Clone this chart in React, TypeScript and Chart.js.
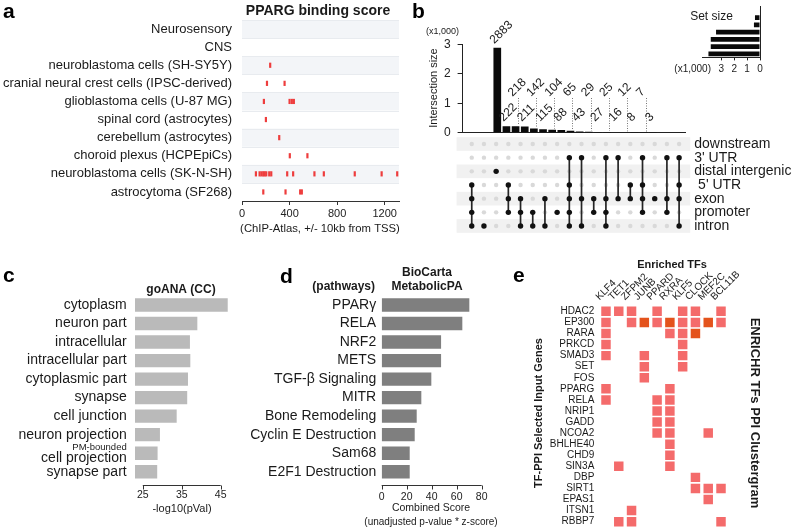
import React, { useEffect, useRef } from 'react';
import { Chart, registerables } from 'chart.js';

Chart.register(...registerables);

const FONT_FAMILY = '"Liberation Sans", Arial, Helvetica, sans-serif';
Chart.defaults.font.family = FONT_FAMILY;
Chart.defaults.color = '#1a1a1a';

// ---------------- panel a: PPARG binding score ----------------
const cellTypes = [
  'Neurosensory',
  'CNS',
  'neuroblastoma cells (SH-SY5Y)',
  'cranial neural crest cells (IPSC-derived)',
  'glioblastoma cells (U-87 MG)',
  'spinal cord (astrocytes)',
  'cerebellum (astrocytes)',
  'choroid plexus (HCPEpiCs)',
  'neuroblastoma cells (SK-N-SH)',
  'astrocytoma (SF268)',
];
const bindingScores: number[][] = [
  [],
  [],
  [237],
  [210, 358],
  [184, 400, 419, 436],
  [201],
  [313],
  [402, 550],
  [117, 148, 164, 179, 190, 204, 229, 246, 380, 430, 609, 688, 948, 1174, 1305],
  [179, 366, 489, 503],
];
const bindingTicks = [0, 400, 800, 1200];
const bindingMax = 1320;

// ---------------- panel b: UpSet ----------------
const intersectionSizes = [2883, 222, 218, 211, 142, 115, 104, 88, 65, 43, 29, 27, 25, 16, 12, 8, 7, 3];
const setKeys = ['downstream', '3UTR', 'distal', '5UTR', 'exon', 'promoter', 'intron'];
const setLabels = ['downstream', "3' UTR", 'distal intergenic', " 5' UTR", 'exon', 'promoter', 'intron'];
const setSizes = [40, 390, 470, 3410, 3820, 3820, 4000];
const intersectionMembers: string[][] = [
  ['5UTR', 'exon', 'promoter', 'intron'],
  ['intron'],
  ['distal'],
  ['5UTR', 'exon', 'promoter'],
  ['exon', 'promoter', 'intron'],
  ['promoter', 'intron'],
  ['exon', 'intron'],
  ['promoter'],
  ['3UTR', '5UTR', 'exon', 'promoter', 'intron'],
  ['3UTR', 'exon', 'intron'],
  ['exon', 'promoter'],
  ['3UTR', 'exon', 'promoter', 'intron'],
  ['3UTR', 'exon'],
  ['5UTR', 'exon'],
  ['3UTR', '5UTR', 'exon', 'promoter'],
  ['exon'],
  ['3UTR', 'exon', 'promoter'],
  ['3UTR', '5UTR', 'exon', 'intron'],
];
const intersectionTicks = [0, 1000, 2000, 3000];
const setSizeTicks = [0, 1000, 2000, 3000];

// ---------------- panel c: goANA (CC) ----------------
const goTerms = [
  'cytoplasm',
  'neuron part',
  'intracellular',
  'intracellular part',
  'cytoplasmic part',
  'synapse',
  'cell junction',
  'neuron projection',
  'cell projection',
  'synapse part',
];
const goPrefixes = ['', '', '', '', '', '', '', '', 'PM-bounded', ''];
const goScores = [46.8, 39.0, 37.1, 37.2, 36.6, 36.4, 33.7, 29.4, 28.8, 28.7];
const goTicks = [25, 35, 45];

// ---------------- panel d: BioCarta MetabolicPA ----------------
const pathways = [
  'PPARγ',
  'RELA',
  'NRF2',
  'METS',
  'TGF-β Signaling',
  'MITR',
  'Bone Remodeling',
  'Cyclin E Destruction',
  'Sam68',
  'E2F1 Destruction',
];
const pathwayScores = [70.1, 64.5, 47.5, 47.5, 39.7, 31.7, 28.0, 26.4, 22.4, 22.4];
const pathwayTicks = [0, 20, 40, 60, 80];

// ---------------- panel e: ENRICHR TFs PPI clustergram ----------------
const enrichedTFs = ['KLF4', 'TET1', 'ZFPM2', 'JUNB', 'PPARD', 'RXRA', 'KLF5', 'CLOCK', 'MEF2C', 'BCL11B'];
const inputGenes = [
  'HDAC2', 'EP300', 'RARA', 'PRKCD', 'SMAD3', 'SET', 'FOS', 'PPARG', 'RELA', 'NRIP1',
  'GADD', 'NCOA2', 'BHLHE40', 'CHD9', 'SIN3A', 'DBP', 'SIRT1', 'EPAS1', 'ITSN1', 'RBBP7',
];
// 0 = none, 1 = interaction, 2 = strong interaction
const ppiMatrix: number[][] = [
  [1, 1, 1, 0, 1, 0, 1, 1, 0, 1],
  [1, 0, 1, 2, 1, 2, 1, 1, 2, 1],
  [1, 0, 0, 0, 0, 1, 1, 2, 0, 0],
  [1, 0, 0, 0, 0, 0, 1, 0, 0, 0],
  [1, 0, 0, 1, 0, 0, 1, 0, 0, 0],
  [0, 0, 0, 1, 0, 0, 1, 0, 0, 0],
  [0, 0, 0, 1, 0, 0, 0, 0, 0, 0],
  [1, 0, 0, 0, 0, 1, 0, 0, 0, 0],
  [1, 0, 0, 0, 1, 1, 0, 0, 0, 0],
  [0, 0, 0, 0, 1, 1, 0, 0, 0, 0],
  [0, 0, 0, 0, 1, 1, 0, 0, 0, 0],
  [0, 0, 0, 0, 1, 1, 0, 0, 1, 0],
  [0, 0, 0, 0, 0, 1, 0, 0, 0, 0],
  [0, 0, 0, 0, 0, 1, 0, 0, 0, 0],
  [0, 1, 0, 0, 0, 1, 0, 0, 0, 0],
  [0, 0, 0, 0, 0, 0, 0, 1, 0, 0],
  [0, 0, 0, 0, 0, 0, 0, 1, 1, 1],
  [0, 0, 0, 0, 0, 0, 0, 0, 1, 0],
  [0, 0, 1, 0, 0, 0, 0, 0, 0, 0],
  [0, 1, 1, 0, 0, 0, 0, 0, 0, 1],
];

// ---------------- helpers ----------------
type Box = { left: number; top: number; width: number; height: number };
type TextItem = {
  text: string; x: number; y: number; size: number; bold?: boolean; color?: string;
  align?: CanvasTextAlign; baseline?: CanvasTextBaseline; rotate?: number;
};

const fnt = (size: number, bold = false) => `${bold ? 'bold ' : ''}${size}px ${FONT_FAMILY}`;

function drawTexts(ctx: CanvasRenderingContext2D, items: TextItem[], box: Box) {
  for (const t of items) {
    ctx.save();
    ctx.font = fnt(t.size, t.bold);
    ctx.fillStyle = t.color || '#1a1a1a';
    ctx.textAlign = t.align || 'center';
    ctx.textBaseline = t.baseline || 'middle';
    ctx.translate(t.x - box.left, t.y - box.top);
    if (t.rotate) ctx.rotate((t.rotate * Math.PI) / 180);
    ctx.fillText(t.text, 0, 0);
    ctx.restore();
  }
}

function textPlugin(box: Box, items: TextItem[]) {
  return { id: 'pageTexts', afterDraw(chart: any) { drawTexts(chart.ctx, items, box); } };
}

const fixW = (w: number) => (s: any) => {
  s.width = w; s.paddingTop = 0; s.paddingBottom = 0; s.paddingLeft = 0; s.paddingRight = 0;
};
const fixH = (h: number) => (s: any) => {
  s.height = h; s.paddingTop = 0; s.paddingBottom = 0; s.paddingLeft = 0; s.paddingRight = 0;
};
const setTicks = (vals: number[]) => (s: any) => { s.ticks = vals.map((v) => ({ value: v })); };
const noGrid = { display: false, drawTicks: false };

// axis line from first to last tick with downward tick marks
function rangeAxisPlugin(offset: number, tickLen: number) {
  return {
    id: 'rangeAxis',
    afterDraw(chart: any) {
      const { ctx, chartArea, scales } = chart;
      const xs = scales.x;
      const ticks = xs.ticks;
      const y = Math.round(chartArea.bottom + offset) + 0.5;
      const x0 = xs.getPixelForValue(ticks[0].value);
      const x1 = xs.getPixelForValue(ticks[ticks.length - 1].value);
      ctx.save();
      ctx.strokeStyle = '#333';
      ctx.lineWidth = 1;
      ctx.beginPath();
      ctx.moveTo(x0, y);
      ctx.lineTo(x1, y);
      for (const t of ticks) {
        const px = Math.round(xs.getPixelForValue(t.value)) + 0.5;
        ctx.moveTo(px, y);
        ctx.lineTo(px, y + tickLen);
      }
      ctx.stroke();
      ctx.restore();
    },
  };
}

const baseOptions = (padding: any) => ({
  animation: false as const,
  responsive: false,
  events: [] as any[],
  layout: { padding, autoPadding: false },
  plugins: { legend: { display: false }, tooltip: { enabled: false }, title: { display: false } },
});

function ChartCanvas({ box, build }: { box: Box; build: (b: Box) => any }) {
  const ref = useRef<HTMLCanvasElement | null>(null);
  useEffect(() => {
    if (!ref.current) return;
    const chart = new Chart(ref.current, build(box));
    return () => chart.destroy();
  }, []);
  return (
    <canvas
      ref={ref}
      width={box.width}
      height={box.height}
      style={{ position: 'absolute', left: box.left, top: box.top, width: box.width, height: box.height }}
    />
  );
}

// ---------------- panel a ----------------
function buildA(box: Box) {
  const pts: { x: number; y: number }[] = [];
  bindingScores.forEach((row, r) => row.forEach((v) => pts.push({ x: v, y: r })));
  const bands = {
    id: 'bandsA',
    beforeDraw(chart: any) {
      const { ctx, chartArea, scales } = chart;
      const ys = scales.y;
      ctx.save();
      cellTypes.forEach((_, i) => {
        const y0 = ys.getPixelForValue(i - 0.5);
        const y1 = ys.getPixelForValue(i + 0.5);
        if (i % 2 === 0) {
          ctx.fillStyle = '#f3f5f8';
          ctx.fillRect(chartArea.left, y0, chartArea.right - chartArea.left, y1 - y0);
        }
      });
      ctx.strokeStyle = '#e8ebef';
      ctx.lineWidth = 1;
      cellTypes.forEach((_, i) => {
        const y = Math.round(ys.getPixelForValue(i - 0.5)) + 0.5;
        ctx.beginPath();
        ctx.moveTo(chartArea.left, y);
        ctx.lineTo(chartArea.right, y);
        ctx.stroke();
      });
      ctx.restore();
    },
  };
  return {
    type: 'scatter',
    data: {
      datasets: [
        {
          data: pts,
          pointStyle: 'line',
          pointRotation: 90,
          pointRadius: 2.6,
          pointBorderWidth: 2.2,
          pointBorderColor: '#ee3d3d',
          pointBackgroundColor: '#ee3d3d',
          borderColor: '#ee3d3d',
        },
      ],
    },
    options: {
      ...baseOptions({ top: 20 - box.top, left: 0, right: box.left + box.width - 399, bottom: 0 }),
      scales: {
        x: {
          type: 'linear', min: 0, max: bindingMax,
          afterBuildTicks: setTicks(bindingTicks),
          afterFit: fixH(box.top + box.height - 201),
          ticks: { font: { size: 11 }, padding: 2, maxRotation: 0, color: '#222', callback: (v: any) => String(v) },
          grid: { drawOnChartArea: false, drawTicks: true, tickLength: 4, color: '#333' },
          border: { display: true, color: '#333' },
        },
        y: {
          type: 'linear', min: -0.5, max: cellTypes.length - 0.5, reverse: true,
          afterBuildTicks: setTicks(cellTypes.map((_, i) => i)),
          afterFit: fixW(242 - box.left),
          ticks: { autoSkip: false, font: { size: 13 }, padding: 10, color: '#1a1a1a', callback: (v: any) => cellTypes[v] },
          grid: noGrid,
          border: { display: false },
        },
      },
    },
    plugins: [
      bands,
      textPlugin(box, [
        { text: 'a', x: 3, y: 18, size: 21, bold: true, align: 'left', baseline: 'alphabetic', color: '#000' },
        { text: 'PPARG binding score', x: 318, y: 11, size: 14, bold: true },
        { text: '(ChIP-Atlas, +/- 10kb from TSS)', x: 320, y: 229, size: 11.3 },
      ]),
    ],
  };
}

// ---------------- panel b: intersection bars ----------------
const COL_MIN = -0.75;
const COL_MAX = 17.5;
const B_LEFT = 462.6;
const B_RIGHT = 685.2;

function buildB1(box: Box) {
  const labelPlugin = {
    id: 'interLabels',
    afterDraw(chart: any) {
      const { ctx } = chart;
      const meta = chart.getDatasetMeta(0);
      ctx.save();
      meta.data.forEach((el: any, i: number) => {
        const x = el.x;
        const top = el.y;
        const level = (i % 2 === 0 ? 97 : 122) - box.top;
        const ly = Math.min(top - 3.5, level);
        if (i % 2 === 0 && top - ly > 6) {
          ctx.strokeStyle = '#777';
          ctx.lineWidth = 1;
          ctx.setLineDash([1, 1.5]);
          ctx.beginPath();
          const lx = Math.round(x + 2) + 0.5;
          ctx.moveTo(lx, ly + 1);
          ctx.lineTo(lx, top - 1);
          ctx.stroke();
          ctx.setLineDash([]);
        }
        ctx.font = fnt(12);
        ctx.fillStyle = '#1a1a1a';
        ctx.textAlign = 'left';
        ctx.textBaseline = 'alphabetic';
        ctx.save();
        ctx.translate(x - 3, ly);
        ctx.rotate(-Math.PI / 4);
        ctx.fillText(String(intersectionSizes[i]), 0, 0);
        ctx.restore();
      });
      ctx.restore();
    },
  };
  return {
    type: 'bar',
    data: {
      datasets: [
        {
          data: intersectionSizes.map((v, i) => ({ x: i, y: v })),
          backgroundColor: '#0a0a0a',
          categoryPercentage: 1,
          barPercentage: 0.84,
        },
      ],
    },
    options: {
      ...baseOptions({ top: 44.2 - box.top, left: 0, right: box.left + box.width - B_RIGHT, bottom: 0 }),
      scales: {
        x: {
          type: 'linear', min: COL_MIN, max: COL_MAX,
          afterFit: fixH(box.top + box.height - 132.7),
          ticks: { display: false },
          grid: noGrid,
          border: { display: true, color: '#222' },
        },
        y: {
          type: 'linear', min: 0, max: 3000,
          afterBuildTicks: setTicks(intersectionTicks),
          afterFit: fixW(B_LEFT - box.left),
          ticks: { font: { size: 12 }, padding: 7, color: '#222', callback: (v: any) => String(v / 1000) },
          grid: { drawOnChartArea: false, drawTicks: true, tickLength: 5, color: '#222' },
          border: { display: true, color: '#222' },
        },
      },
    },
    plugins: [
      labelPlugin,
      textPlugin(box, [
        { text: 'b', x: 412, y: 18, size: 21, bold: true, align: 'left', baseline: 'alphabetic', color: '#000' },
        { text: '(x1,000)', x: 442.5, y: 31.5, size: 9 },
        { text: 'Intersection size', x: 433.5, y: 88, size: 11, rotate: -90 },
      ]),
    ],
  };
}

// ---------------- panel b: matrix ----------------
function buildB2(box: Box) {
  const memberIdx = intersectionMembers.map((m) => m.map((k) => setKeys.indexOf(k)));
  const black: { x: number; y: number }[] = [];
  const gray: { x: number; y: number }[] = [];
  memberIdx.forEach((rows, c) =>
    setKeys.forEach((_, r) => (rows.includes(r) ? black : gray).push({ x: c, y: r })),
  );
  const lines = memberIdx
    .map((rows, c) =>
      rows.length > 1
        ? {
            data: [
              { x: c, y: Math.min(...rows) },
              { x: c, y: Math.max(...rows) },
            ],
            showLine: true,
            borderColor: '#262626',
            borderWidth: 1.7,
            pointRadius: 0,
          }
        : null,
    )
    .filter(Boolean);
  const bands = {
    id: 'bandsB',
    beforeDraw(chart: any) {
      const { ctx, chartArea, scales } = chart;
      const ys = scales.y;
      ctx.save();
      ctx.fillStyle = '#f1f1f1';
      setKeys.forEach((_, i) => {
        if (i % 2 !== 0) return;
        const y0 = ys.getPixelForValue(i - 0.5);
        const y1 = ys.getPixelForValue(i + 0.5);
        ctx.fillRect(chartArea.left - 6, y0, chartArea.right - chartArea.left + 11, y1 - y0);
      });
      ctx.restore();
    },
  };
  return {
    type: 'scatter',
    data: {
      datasets: [
        { data: black, pointRadius: 2.7, pointBackgroundColor: '#111', pointBorderWidth: 0, backgroundColor: '#111' },
        ...lines,
        { data: gray, pointRadius: 2.2, pointBackgroundColor: '#d9d9d9', pointBorderWidth: 0, backgroundColor: '#d9d9d9' },
      ],
    },
    options: {
      ...baseOptions({ top: 137.17 - box.top, left: B_LEFT - box.left, right: 0, bottom: box.top + box.height - 232.83 }),
      scales: {
        x: { type: 'linear', min: COL_MIN, max: COL_MAX, display: false },
        y: {
          type: 'linear', min: -0.5, max: setKeys.length - 0.5, reverse: true, position: 'right',
          afterBuildTicks: setTicks(setKeys.map((_, i) => i)),
          afterFit: fixW(box.left + box.width - B_RIGHT),
          ticks: { autoSkip: false, font: { size: 14 }, padding: 9, color: '#1a1a1a', callback: (v: any) => setLabels[v] },
          grid: noGrid,
          border: { display: false },
        },
      },
    },
    plugins: [bands],
  };
}

// ---------------- panel b: set size ----------------
function buildB3(box: Box) {
  return {
    type: 'bar',
    data: {
      labels: setLabels,
      datasets: [
        { data: setSizes, backgroundColor: '#0a0a0a', categoryPercentage: 1, barPercentage: 0.66 },
      ],
    },
    options: {
      ...baseOptions({ top: 6.9 - box.top, left: 702 - box.left, right: box.left + box.width - 760, bottom: 0 }),
      indexAxis: 'y',
      scales: {
        x: {
          type: 'linear', min: 0, max: 4500, reverse: true,
          afterBuildTicks: setTicks(setSizeTicks),
          afterFit: fixH(box.top + box.height - 57.4),
          ticks: { font: { size: 10 }, padding: 3, maxRotation: 0, color: '#222', callback: (v: any) => String(v / 1000) },
          grid: { drawOnChartArea: false, drawTicks: true, tickLength: 3, color: '#222' },
          border: { display: true, color: '#222' },
        },
        y: {
          type: 'category', position: 'right',
          afterFit: fixW(0),
          ticks: { display: false },
          grid: noGrid,
          border: { display: true, color: '#222' },
        },
      },
    },
    plugins: [
      textPlugin(box, [
        { text: 'Set size', x: 711.5, y: 17, size: 12 },
        { text: '(x1,000)', x: 711, y: 69.5, size: 10, align: 'right' },
      ]),
    ],
  };
}

// ---------------- panels c & d: horizontal bars ----------------
function buildC(box: Box) {
  const prefixPlugin = {
    id: 'goPrefix',
    afterDraw(chart: any) {
      const { ctx, scales } = chart;
      const ys = scales.y;
      const xr = ys.right - 8.3;
      ctx.save();
      ctx.fillStyle = '#1a1a1a';
      ctx.textAlign = 'right';
      ctx.textBaseline = 'middle';
      goPrefixes.forEach((p, i) => {
        if (!p) return;
        const yc = ys.getPixelForValue(i);
        ctx.font = fnt(9.5);
        ctx.fillText(p, xr, yc - 6);
        ctx.font = fnt(14);
        ctx.fillText(goTerms[i], xr, yc + 4.5);
      });
      ctx.restore();
    },
  };
  return {
    type: 'bar',
    data: {
      labels: goTerms,
      datasets: [
        { data: goScores, backgroundColor: '#bababa', categoryPercentage: 1, barPercentage: 0.72 },
      ],
    },
    options: {
      ...baseOptions({ top: 295.7 - box.top, left: 0, right: box.left + box.width - 232.4, bottom: 0 }),
      indexAxis: 'y',
      scales: {
        x: {
          type: 'linear', min: 23.0, max: 48.0,
          afterBuildTicks: setTicks(goTicks),
          afterFit: fixH(box.top + box.height - 481),
          ticks: { font: { size: 10.5 }, padding: 7.7, maxRotation: 0, color: '#222' },
          grid: noGrid,
          border: { display: false },
        },
        y: {
          type: 'category',
          afterFit: fixW(135 - box.left),
          ticks: {
            autoSkip: false, font: { size: 14 }, padding: 8.3, color: '#1a1a1a',
            callback: (_v: any, i: number) => (goPrefixes[i] ? '' : goTerms[i]),
          },
          grid: noGrid,
          border: { display: false },
        },
      },
    },
    plugins: [
      rangeAxisPlugin(4, 4),
      prefixPlugin,
      textPlugin(box, [
        { text: 'c', x: 3, y: 282, size: 21, bold: true, align: 'left', baseline: 'alphabetic', color: '#000' },
        { text: 'goANA (CC)', x: 181, y: 290, size: 12, bold: true },
        { text: '-log10(pVal)', x: 182, y: 508.5, size: 11 },
      ]),
    ],
  };
}

function buildD(box: Box) {
  return {
    type: 'bar',
    data: {
      labels: pathways,
      datasets: [
        { data: pathwayScores, backgroundColor: '#7f7f7f', categoryPercentage: 1, barPercentage: 0.72 },
      ],
    },
    options: {
      ...baseOptions({ top: 295.7 - box.top, left: 0, right: box.left + box.width - 481.7, bottom: 0 }),
      indexAxis: 'y',
      scales: {
        x: {
          type: 'linear', min: 0, max: 80,
          afterBuildTicks: setTicks(pathwayTicks),
          afterFit: fixH(box.top + box.height - 481),
          ticks: { font: { size: 10.5 }, padding: 9.4, maxRotation: 0, color: '#222' },
          grid: noGrid,
          border: { display: false },
        },
        y: {
          type: 'category',
          afterFit: fixW(381.7 - box.left),
          ticks: { autoSkip: false, font: { size: 14 }, padding: 5.5, color: '#1a1a1a' },
          grid: noGrid,
          border: { display: false },
        },
      },
    },
    plugins: [
      rangeAxisPlugin(4, 4),
      textPlugin(box, [
        { text: 'd', x: 280, y: 283, size: 21, bold: true, align: 'left', baseline: 'alphabetic', color: '#000' },
        { text: 'BioCarta', x: 427, y: 273, size: 12, bold: true },
        { text: 'MetabolicPA', x: 427, y: 287, size: 12, bold: true },
        { text: '(pathways)', x: 375, y: 287, size: 12, bold: true, align: 'right' },
        { text: 'Combined Score', x: 431, y: 508.5, size: 10.5 },
        { text: '(unadjusted p-value * z-score)', x: 431, y: 522, size: 10 },
      ]),
    ],
  };
}

// ---------------- panel e ----------------
function buildE(box: Box) {
  const normal: { x: number; y: number }[] = [];
  const strong: { x: number; y: number }[] = [];
  ppiMatrix.forEach((row, r) =>
    row.forEach((v, c) => {
      if (v === 1) normal.push({ x: c, y: r });
      if (v === 2) strong.push({ x: c, y: r });
    }),
  );
  const cell = { pointStyle: 'rect', pointRadius: 6.7, pointBorderWidth: 0 };
  return {
    type: 'scatter',
    data: {
      datasets: [
        { data: strong, ...cell, pointBackgroundColor: '#e4531c', backgroundColor: '#e4531c' },
        { data: normal, ...cell, pointBackgroundColor: '#f46b6b', backgroundColor: '#f46b6b' },
      ],
    },
    options: {
      ...baseOptions({ top: 0, left: 0, right: box.left + box.width - 727.4, bottom: box.top + box.height - 527.2 }),
      scales: {
        x: {
          type: 'linear', position: 'top', min: -0.5, max: enrichedTFs.length - 0.5,
          afterBuildTicks: setTicks(enrichedTFs.map((_, i) => i)),
          afterFit: fixH(305.8 - box.top),
          ticks: {
            autoSkip: false, minRotation: 45, maxRotation: 45, font: { size: 10 }, padding: 3, color: '#1a1a1a',
            callback: (v: any) => enrichedTFs[v],
          },
          grid: noGrid,
          border: { display: false },
        },
        y: {
          type: 'linear', min: -0.5, max: inputGenes.length - 0.5, reverse: true,
          afterBuildTicks: setTicks(inputGenes.map((_, i) => i)),
          afterFit: fixW(599.6 - box.left),
          ticks: { autoSkip: false, font: { size: 10 }, padding: 5.3, color: '#1a1a1a', callback: (v: any) => inputGenes[v] },
          grid: noGrid,
          border: { display: false },
        },
      },
    },
    plugins: [
      textPlugin(box, [
        { text: 'e', x: 513, y: 282, size: 21, bold: true, align: 'left', baseline: 'alphabetic', color: '#000' },
        { text: 'Enriched TFs', x: 672, y: 265, size: 11, bold: true },
        { text: 'TF-PPI Selected Input Genes', x: 538.5, y: 413, size: 11, bold: true, rotate: -90 },
        { text: 'ENRICHR TFs PPI Clustergram', x: 755, y: 413, size: 13, bold: true, rotate: 90 },
      ]),
    ],
  };
}

export default function App() {
  return (
    <div style={{ position: 'absolute', left: 0, top: 0, width: 794, height: 531, background: '#fff', overflow: 'hidden' }}>
      <ChartCanvas box={{ left: 0, top: 0, width: 410, height: 240 }} build={buildA} />
      <ChartCanvas box={{ left: 405, top: 0, width: 300, height: 140 }} build={buildB1} />
      <ChartCanvas box={{ left: 405, top: 135, width: 389, height: 100 }} build={buildB2} />
      <ChartCanvas box={{ left: 660, top: 0, width: 120, height: 80 }} build={buildB3} />
      <ChartCanvas box={{ left: 0, top: 240, width: 250, height: 291 }} build={buildC} />
      <ChartCanvas box={{ left: 236, top: 240, width: 274, height: 291 }} build={buildD} />
      <ChartCanvas box={{ left: 510, top: 240, width: 284, height: 291 }} build={buildE} />
    </div>
  );
}
